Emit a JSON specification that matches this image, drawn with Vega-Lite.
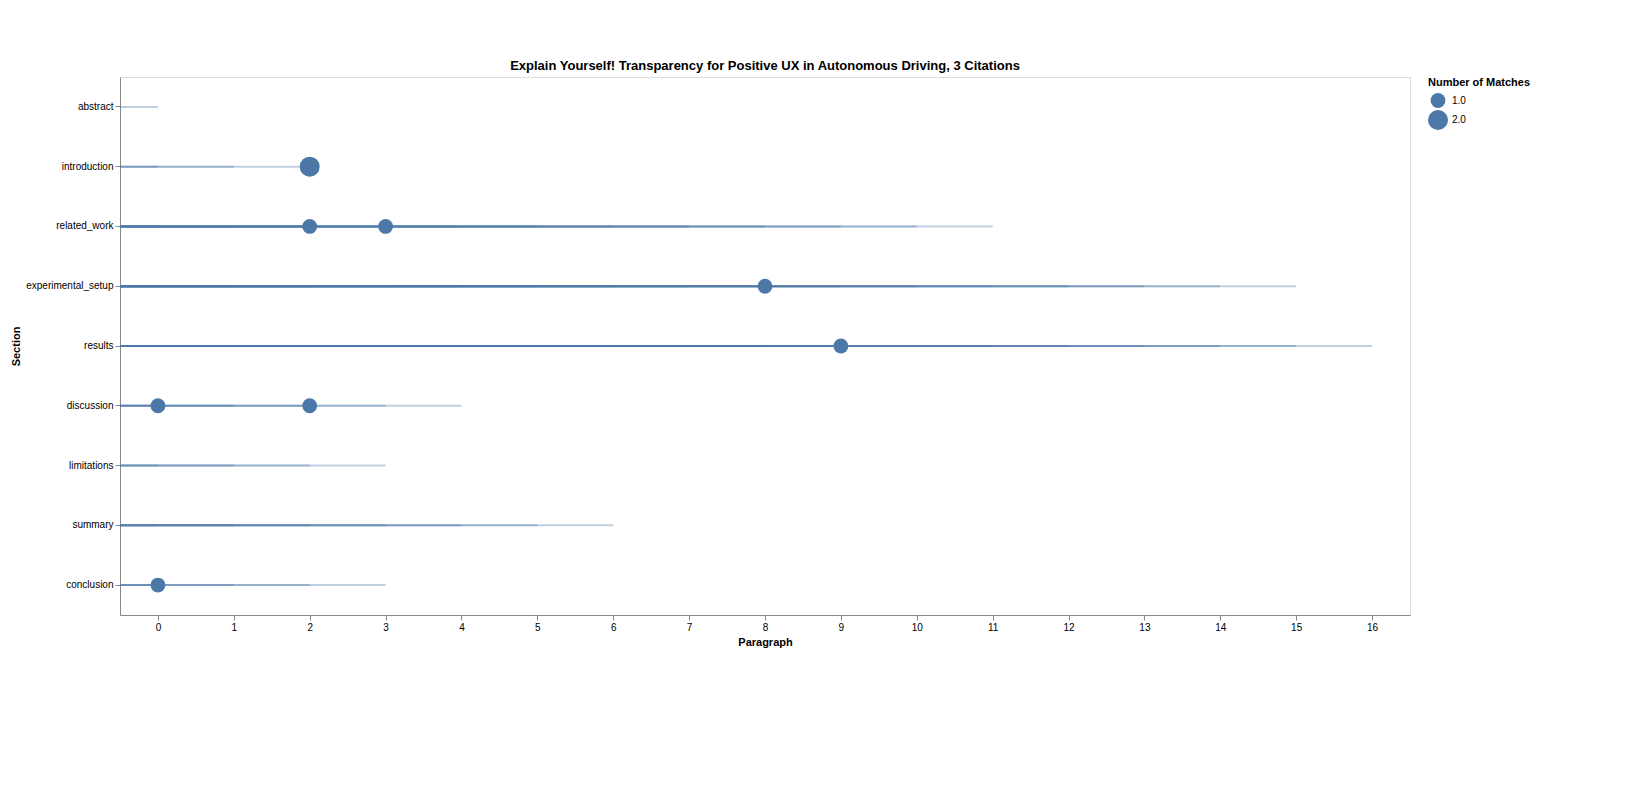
{
  "$schema": "https://vega.github.io/schema/vega-lite/v6.json",
  "width": 1290,
  "height": 538,
  "padding": {"left": 10, "top": 60, "right": 10, "bottom": 10},
  "title": {"text": "Explain Yourself! Transparency for Positive UX in Autonomous Driving, 3 Citations", "fontSize": 13, "font": "Liberation Sans"},
  "data": {
    "values": [
      {"section": "abstract", "paragraph": 0, "matches": 0},
      {"section": "introduction", "paragraph": 0, "matches": 0},
      {"section": "introduction", "paragraph": 1, "matches": 0},
      {"section": "introduction", "paragraph": 2, "matches": 2},
      {"section": "related_work", "paragraph": 0, "matches": 0},
      {"section": "related_work", "paragraph": 1, "matches": 0},
      {"section": "related_work", "paragraph": 2, "matches": 1},
      {"section": "related_work", "paragraph": 3, "matches": 1},
      {"section": "related_work", "paragraph": 4, "matches": 0},
      {"section": "related_work", "paragraph": 5, "matches": 0},
      {"section": "related_work", "paragraph": 6, "matches": 0},
      {"section": "related_work", "paragraph": 7, "matches": 0},
      {"section": "related_work", "paragraph": 8, "matches": 0},
      {"section": "related_work", "paragraph": 9, "matches": 0},
      {"section": "related_work", "paragraph": 10, "matches": 0},
      {"section": "related_work", "paragraph": 11, "matches": 0},
      {"section": "experimental_setup", "paragraph": 0, "matches": 0},
      {"section": "experimental_setup", "paragraph": 1, "matches": 0},
      {"section": "experimental_setup", "paragraph": 2, "matches": 0},
      {"section": "experimental_setup", "paragraph": 3, "matches": 0},
      {"section": "experimental_setup", "paragraph": 4, "matches": 0},
      {"section": "experimental_setup", "paragraph": 5, "matches": 0},
      {"section": "experimental_setup", "paragraph": 6, "matches": 0},
      {"section": "experimental_setup", "paragraph": 7, "matches": 0},
      {"section": "experimental_setup", "paragraph": 8, "matches": 1},
      {"section": "experimental_setup", "paragraph": 9, "matches": 0},
      {"section": "experimental_setup", "paragraph": 10, "matches": 0},
      {"section": "experimental_setup", "paragraph": 11, "matches": 0},
      {"section": "experimental_setup", "paragraph": 12, "matches": 0},
      {"section": "experimental_setup", "paragraph": 13, "matches": 0},
      {"section": "experimental_setup", "paragraph": 14, "matches": 0},
      {"section": "experimental_setup", "paragraph": 15, "matches": 0},
      {"section": "results", "paragraph": 0, "matches": 0},
      {"section": "results", "paragraph": 1, "matches": 0},
      {"section": "results", "paragraph": 2, "matches": 0},
      {"section": "results", "paragraph": 3, "matches": 0},
      {"section": "results", "paragraph": 4, "matches": 0},
      {"section": "results", "paragraph": 5, "matches": 0},
      {"section": "results", "paragraph": 6, "matches": 0},
      {"section": "results", "paragraph": 7, "matches": 0},
      {"section": "results", "paragraph": 8, "matches": 0},
      {"section": "results", "paragraph": 9, "matches": 1},
      {"section": "results", "paragraph": 10, "matches": 0},
      {"section": "results", "paragraph": 11, "matches": 0},
      {"section": "results", "paragraph": 12, "matches": 0},
      {"section": "results", "paragraph": 13, "matches": 0},
      {"section": "results", "paragraph": 14, "matches": 0},
      {"section": "results", "paragraph": 15, "matches": 0},
      {"section": "results", "paragraph": 16, "matches": 0},
      {"section": "discussion", "paragraph": 0, "matches": 1},
      {"section": "discussion", "paragraph": 1, "matches": 0},
      {"section": "discussion", "paragraph": 2, "matches": 1},
      {"section": "discussion", "paragraph": 3, "matches": 0},
      {"section": "discussion", "paragraph": 4, "matches": 0},
      {"section": "limitations", "paragraph": 0, "matches": 0},
      {"section": "limitations", "paragraph": 1, "matches": 0},
      {"section": "limitations", "paragraph": 2, "matches": 0},
      {"section": "limitations", "paragraph": 3, "matches": 0},
      {"section": "summary", "paragraph": 0, "matches": 0},
      {"section": "summary", "paragraph": 1, "matches": 0},
      {"section": "summary", "paragraph": 2, "matches": 0},
      {"section": "summary", "paragraph": 3, "matches": 0},
      {"section": "summary", "paragraph": 4, "matches": 0},
      {"section": "summary", "paragraph": 5, "matches": 0},
      {"section": "summary", "paragraph": 6, "matches": 0},
      {"section": "conclusion", "paragraph": 0, "matches": 1},
      {"section": "conclusion", "paragraph": 1, "matches": 0},
      {"section": "conclusion", "paragraph": 2, "matches": 0},
      {"section": "conclusion", "paragraph": 3, "matches": 0}
    ]
  },
  "encoding": {
    "y": {
      "field": "section", "type": "nominal", "title": "Section",
      "sort": ["abstract", "introduction", "related_work", "experimental_setup", "results", "discussion", "limitations", "summary", "conclusion"],
      "axis": {"grid": false}
    }
  },
  "layer": [
    {
      "mark": {"type": "rule", "strokeWidth": 2, "opacity": 0.35, "color": "#4c78a8"},
      "encoding": {
        "x": {
          "field": "paragraph", "type": "quantitative", "title": "Paragraph",
          "scale": {"domain": [-0.5, 16.5], "nice": false, "zero": false},
          "axis": {"grid": false, "values": [0,1,2,3,4,5,6,7,8,9,10,11,12,13,14,15,16], "format": "d"}
        },
        "x2": {"datum": -0.5}
      }
    },
    {
      "transform": [{"filter": "datum.matches > 0"}],
      "mark": {"type": "circle", "opacity": 1, "color": "#4c78a8"},
      "encoding": {
        "x": {"field": "paragraph", "type": "quantitative"},
        "size": {
          "field": "matches", "type": "quantitative", "title": "Number of Matches",
          "scale": {"domain": [1, 2], "range": [220, 400]},
          "legend": {"values": [1, 2], "symbolOpacity": 1, "symbolFillColor": "#4c78a8", "symbolStrokeWidth": 0}
        }
      }
    }
  ],
  "config": {"font": "Liberation Sans", "view": {"stroke": "#ddd"}}
}
